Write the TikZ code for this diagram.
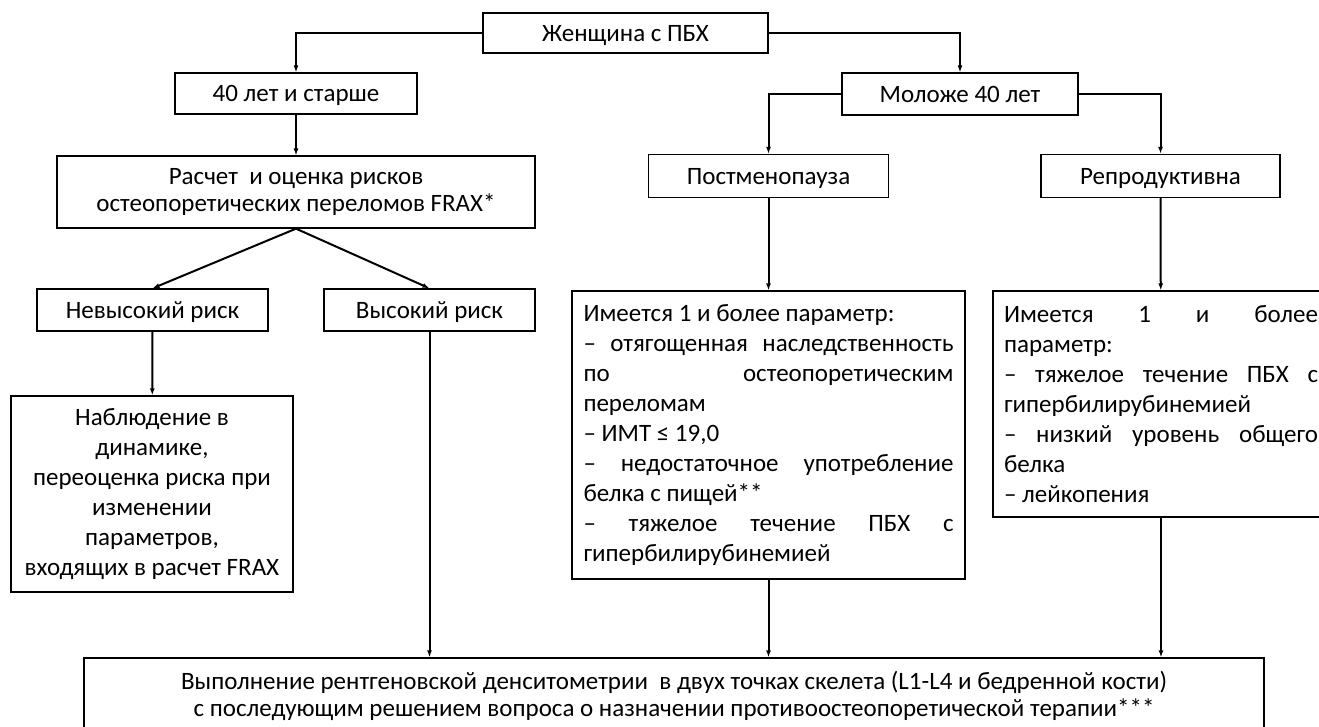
\documentclass[tikz,border=0pt]{standalone}
\usepackage{fontspec}
\setmainfont{Carlito}
\usetikzlibrary{positioning}
\usetikzlibrary{arrows.meta}

\newcommand{\jl}[1]{\makebox[\hsize][s]{\spaceskip=0pt\xspaceskip=0pt\relax #1}}

\tikzset{
box/.style={draw, line width=1.3pt, inner sep=0pt, align=center, font=\fontsize{25}{27}\selectfont},
onebox/.style={box, text height=20pt, text depth=4pt},
parbox/.style={box, align=justify, font=\fontsize{25}{30}\selectfont},
conn/.style={line width=2pt, -{Latex[length=7pt,width=5pt]}}
}

\begin{document}
\begin{tikzpicture}[x=1pt, y=-1pt]

\useasboundingbox (0,0) rectangle (1319,726);
\clip (0,0) rectangle (1319,726);

% top row
\node[onebox, minimum width=285, minimum height=40] (woman) at (625.5,33) {Женщина с ПБХ};
\node[onebox, minimum width=242, minimum height=41] (old) at (296,93.5) {40 лет и старше};
\node[onebox, minimum width=236, minimum height=42] (young) at (960,94) {Моложе 40 лет};

% left branch
\node[box, minimum width=478, minimum height=72] (frax) at (296,192) {Расчет\ \ и оценка рисков\\остеопоретических переломов FRAX*};
\node[onebox, minimum width=231, minimum height=42] (low) at (152.5,310) {Невысокий риск};
\node[onebox, minimum width=211, minimum height=42] (high) at (429.5,310) {Высокий риск};
\node[box, font=\fontsize{25}{30}\selectfont, minimum width=282, minimum height=196] (watch) at (152,494) {Наблюдение в\\динамике,\\переоценка риска при\\изменении\\параметров,\\входящих в расчет FRAX};

% right branch
\node[onebox, minimum width=240, minimum height=43] (post) at (768.5,176) {Постменопауза};
\node[onebox, minimum width=239, minimum height=43] (repro) at (1160.5,176) {Репродуктивна};

\node[parbox, text width=370, minimum width=393, minimum height=288] (postpar) at (768.5,435) {Имеется 1 и более параметр:\\
\jl{– отягощенная наследственность}\\
\jl{по остеопоретическим}\\
переломам\\
– ИМТ ≤ 19,0\\
\jl{– недостаточное употребление}\\
белка с пищей**\\
\jl{– тяжелое течение ПБХ с}\\
гипербилирубинемией};

\node[parbox, text width=314, minimum width=336, minimum height=226] (repropar) at (1161,404) {\jl{Имеется 1 и более}\\
параметр:\\
\jl{– тяжелое течение ПБХ с}\\
гипербилирубинемией\\
\jl{– низкий уровень общего}\\
белка\\
– лейкопения};

% bottom
\node[box, minimum width=1180, minimum height=76] (dxa) at (674,696) {Выполнение рентгеновской денситометрии\ \ в двух точках скелета (L1-L4 и бедренной кости)\\с последующим решением вопроса о назначении противоостеопоретической терапии***};

% arrows
\draw[conn] (woman.west) -| (old.north);
\draw[conn] (woman.east) -| (young.north);
\draw[conn] (old) -- (frax);
\draw[conn] (young.west) -| (post.north);
\draw[conn] (young.east) -| (repro.north);
\draw[conn] (frax.south) -- (low.north);
\draw[conn] (frax.south) -- (high.north);
\draw[conn] (low) -- (watch);
\draw[conn] (post) -- (postpar);
\draw[conn] (repro) -- (repropar);
\draw[conn] (high.south) -- (high.south |- dxa.north);
\draw[conn] (postpar.south) -- (postpar.south |- dxa.north);
\draw[conn] (repropar.south) -- (repropar.south |- dxa.north);

\end{tikzpicture}
\end{document}
